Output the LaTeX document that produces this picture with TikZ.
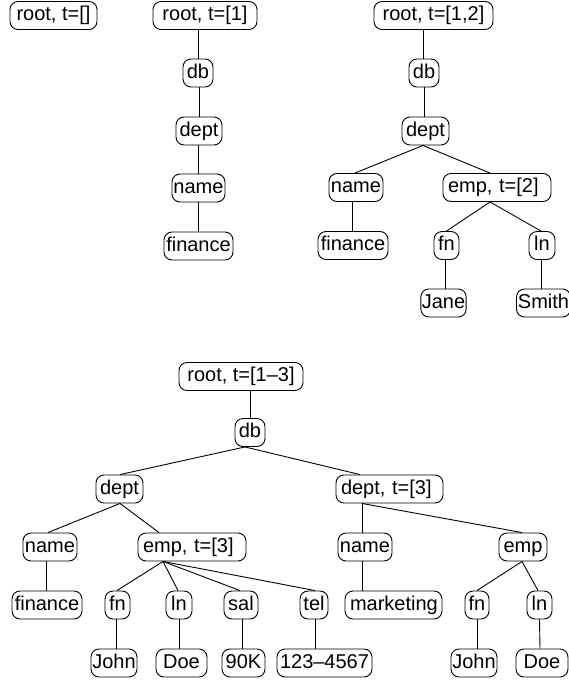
\documentclass[tikz,border=0pt]{standalone}
\usepackage{fontspec}
\setmainfont{Liberation Sans}
\begin{document}
\begin{tikzpicture}[x=1pt,y=-1pt,
  base/.style={draw, rounded corners=8pt, line width=0.9pt, inner ysep=0pt,
    minimum height=28pt, text height=14pt, text depth=4pt,
    font=\fontsize{20}{24}\selectfont},
  nd/.style={base, inner xsep=1pt, minimum width=#1},
  ndl/.style={base, inner xsep=5pt, text width=#1, align=left},
  ln/.style={line width=0.9pt}]
\fill[white] (0,0) rectangle (569,683);
\useasboundingbox (0,0) rectangle (569,683);
\newcommand\cnx[4]{\draw[ln] ([xshift=#2pt]#1.south) -- ([xshift=#4pt]#3.north);}
% tree 1
\node[nd=87] (r1) at (53.5,15.5) {root, t=[]};
% tree 2
\node[nd=104] (r2) at (205,15.5) {root, t=[1]};
\node[nd=30] (db2) at (198,73) {db};
\node[nd=46] (dp2) at (199,131) {dept};
\node[nd=53] (nm2) at (198.5,188) {name};
\node[nd=69] (fi2) at (198.5,246) {finance};
\cnx{r2}{-7}{db2}{0}
\cnx{db2}{1}{dp2}{0}
\cnx{dp2}{-1}{nm2}{-0.5}
\cnx{nm2}{0}{fi2}{0}
% tree 3
\node[nd=119] (r3) at (433.5,15.5) {root, t=[1,2]};
\node[nd=30] (db3) at (424,73) {db};
\node[nd=47] (dp3) at (425.5,131) {dept};
\node[nd=54] (nm3) at (356,187.5) {name};
\node[ndl=98] (em3) at (497,187.5) {emp, t=[2]};
\node[nd=70] (fi3) at (353,245.5) {finance};
\node[nd=25] (fn3) at (446.5,245.5) {fn};
\node[nd=26] (ln3) at (542,245.5) {ln};
\node[nd=45] (ja3) at (443.5,303) {Jane};
\node[nd=54] (sm3) at (543.5,303) {Smith};
\cnx{r3}{-10.5}{db3}{-1}
\cnx{db3}{0}{dp3}{-1.5}
\cnx{dp3}{-2.5}{nm3}{-1}
\cnx{dp3}{-2.5}{em3}{-7}
\cnx{nm3}{-4}{fi3}{-1}
\cnx{em3}{-7}{fn3}{0}
\cnx{em3}{-7}{ln3}{-1}
\cnx{fn3}{-1.5}{ja3}{1.5}
\cnx{ln3}{-1}{sm3}{-2.5}
% bottom tree
\node[nd=124] (R) at (241,376.5) {root, t=[1–3]};
\node[nd=30] (DB) at (250,432.5) {db};
\node[nd=47] (D1) at (119.5,489) {dept};
\node[ndl=97] (D2) at (389.5,489) {dept, t=[3]};
\node[nd=54] (N1) at (50,547) {name};
\node[ndl=98] (E1) at (192,547) {emp, t=[3]};
\node[nd=54] (N2) at (365,547) {name};
\node[nd=48] (E2) at (523,547) {emp};
\node[nd=70] (F1) at (47,605) {finance};
\node[nd=25] (FN1) at (117.5,605) {fn};
\node[nd=26] (LN1) at (179,605) {ln};
\node[nd=34] (SAL) at (241,605) {sal};
\node[nd=28] (TEL) at (314,605) {tel};
\node[ndl=87] (MK) at (393.5,605) {marketing};
\node[nd=24] (FN2) at (477,605) {fn};
\node[nd=25] (LN2) at (539.5,605) {ln};
\node[nd=46] (J1) at (114,663) {John};
\node[nd=51] (DO1) at (181.5,663) {Doe};
\node[nd=43] (K90) at (243.5,663) {90K};
\node[nd=95] (PH) at (324.5,663) {123–4567};
\node[nd=46] (J2) at (474,663) {John};
\node[nd=52] (DO2) at (542,663) {Doe};
\cnx{R}{9}{DB}{0}
\cnx{DB}{-5}{D1}{0.5}
\cnx{DB}{-5}{D2}{-29.5}
\cnx{D1}{0.5}{N1}{-2}
\cnx{D1}{0.5}{E1}{-33}
\cnx{N1}{-4}{F1}{-1}
\cnx{E1}{-29}{FN1}{-0.5}
\cnx{E1}{-29}{LN1}{-1}
\cnx{E1}{-29}{SAL}{-1}
\cnx{E1}{-29}{TEL}{1}
\cnx{FN1}{-1.5}{J1}{2}
\cnx{LN1}{0}{DO1}{-2.5}
\cnx{SAL}{1}{K90}{-1.5}
\cnx{TEL}{1}{PH}{-9.5}
\cnx{D2}{-27.5}{N2}{-3}
\cnx{D2}{-27.5}{E2}{-1}
\cnx{N2}{-3}{MK}{-31.5}
\cnx{E2}{-1}{FN2}{0}
\cnx{E2}{-1}{LN2}{-1.5}
\cnx{FN2}{0}{J2}{3}
\cnx{LN2}{0}{DO2}{-2}
\end{tikzpicture}
\end{document}
